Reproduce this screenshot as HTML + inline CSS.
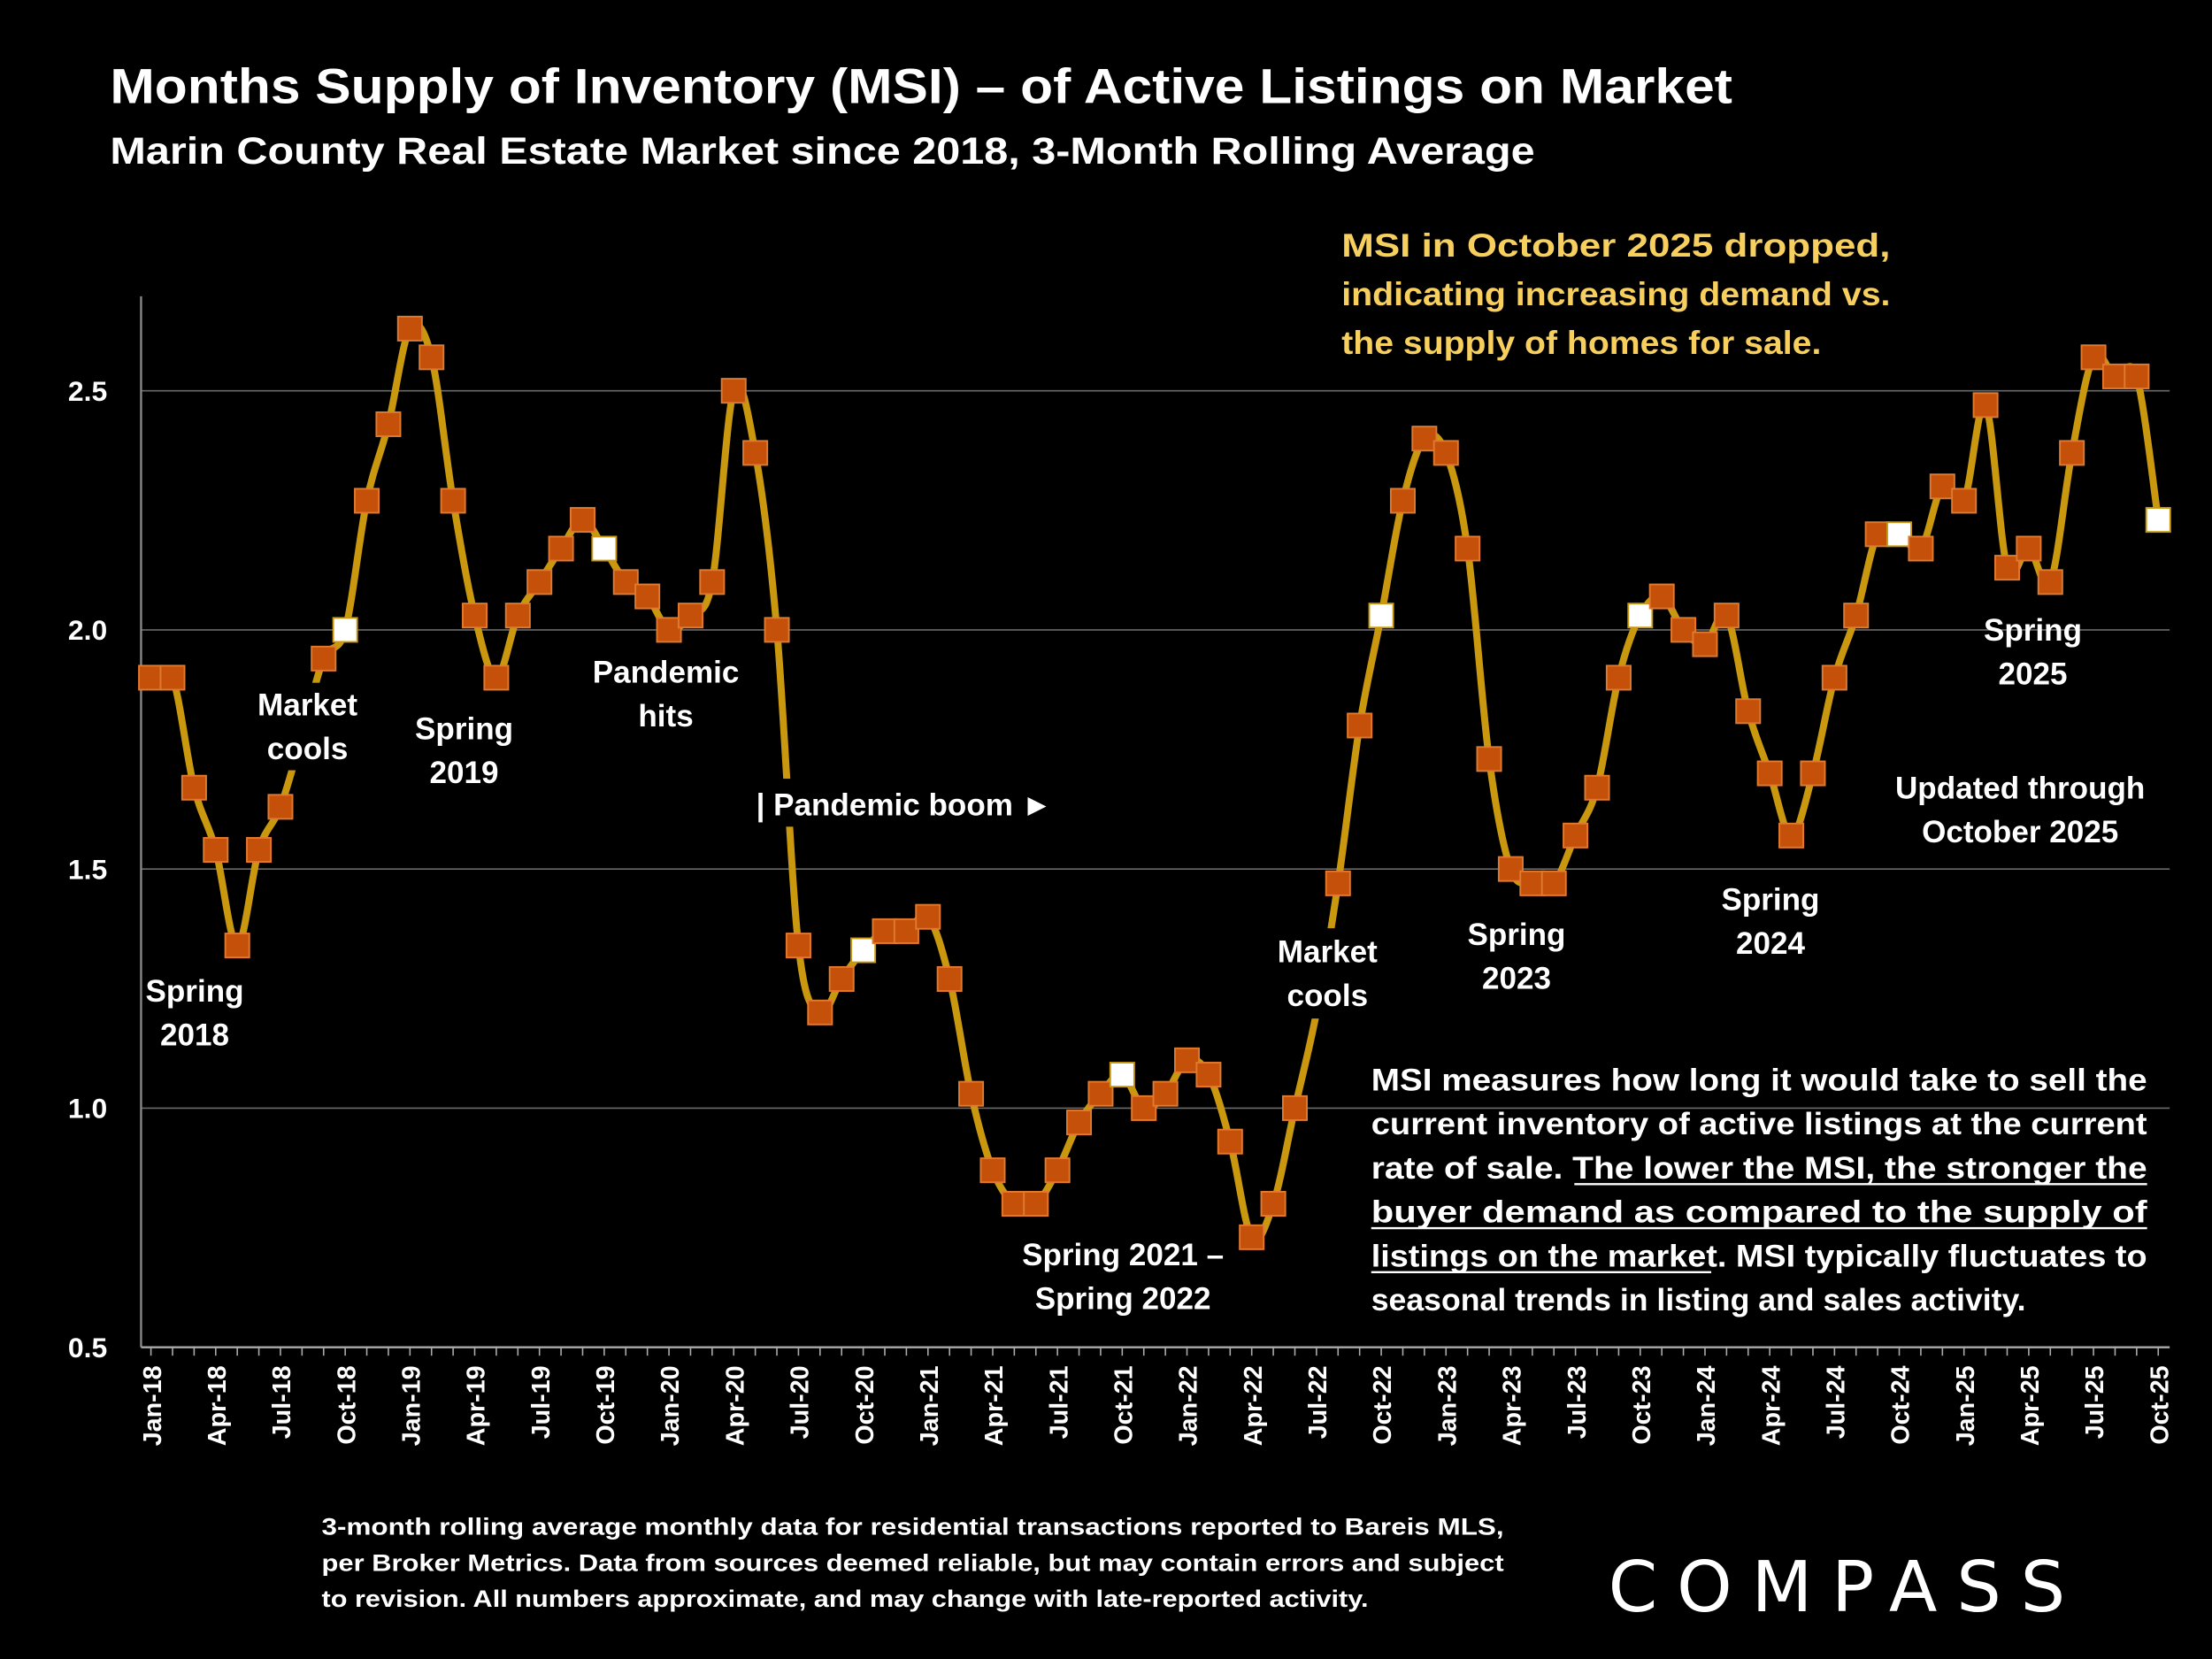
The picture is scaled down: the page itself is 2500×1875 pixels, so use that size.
<!DOCTYPE html>
<html><head><meta charset="utf-8"><style>
html,body{margin:0;padding:0;background:#000;}
svg{display:block;}
text{font-family:"Liberation Sans",Arial,sans-serif;font-weight:bold;fill:#fff;}
</style></head><body>
<svg id="chart" width="2500" height="1875" viewBox="0 0 1568 1176" xmlns="http://www.w3.org/2000/svg">
<rect width="1568" height="1176" fill="#000"/>
<text x="78" y="73" font-size="35" textLength="1150" lengthAdjust="spacingAndGlyphs">Months Supply of Inventory (MSI) – of Active Listings on Market</text>
<text x="78" y="116" font-size="27" textLength="1010" lengthAdjust="spacingAndGlyphs">Marin County Real Estate Market since 2018, 3-Month Rolling Average</text>
<g id="grid"></g>
<g id="axes"></g>
<g id="series"></g>
<g id="labels"></g>
</svg>
<script>
const months = ["Jan","Feb","Mar","Apr","May","Jun","Jul","Aug","Sep","Oct","Nov","Dec"];
const startYear = 18;
const msiValues = [1.90,1.90,1.67,1.54,1.34,1.54,1.63,1.78,1.94,2.00,2.27,2.43,
2.63,2.57,2.27,2.03,1.90,2.03,2.10,2.17,2.23,2.17,2.10,2.07,
2.00,2.03,2.10,2.50,2.37,2.00,1.34,1.20,1.27,1.33,1.37,1.37,
1.40,1.27,1.03,0.87,0.80,0.80,0.87,0.97,1.03,1.07,1.00,1.03,
1.10,1.07,0.93,0.73,0.80,1.00,1.20,1.47,1.80,2.03,2.27,2.40,
2.37,2.17,1.73,1.50,1.47,1.47,1.57,1.67,1.90,2.03,2.07,2.00,
1.97,2.03,1.83,1.70,1.57,1.70,1.90,2.03,2.20,2.20,2.17,2.30,
2.27,2.47,2.13,2.17,2.10,2.37,2.57,2.53,2.53,2.23];
const hiddenMarkers = [7,54];
const yTicks = [0.5,1.0,1.5,2.0,2.5];
const yTickLabels = ["0.5","1.0","1.5","2.0","2.5"];

const NS="http://www.w3.org/2000/svg";
const X0=107, DX=15.30, Y05=955, PERUNIT=339;
function xs(i){return X0+i*DX;}
function ys(v){return Y05-(v-0.5)*PERUNIT;}
function mk(tag,attrs,parent){const e=document.createElementNS(NS,tag);for(const k in attrs)e.setAttribute(k,attrs[k]);parent.appendChild(e);return e;}
const grid=document.getElementById('grid'),axes=document.getElementById('axes'),series=document.getElementById('series'),labels=document.getElementById('labels');
yTicks.forEach((t,i)=>{
  if(t>0.5){const l=mk('line',{x1:100,x2:1538,y1:ys(t),y2:ys(t),stroke:'#6a6a6a','stroke-width':1},grid);
  
  }
  const tx=mk('text',{x:76,y:ys(t)+7,'font-size':20,'text-anchor':'end'},axes);
  tx.textContent=yTickLabels[i];
  
  
});
mk('line',{x1:100,x2:100,y1:210,y2:955,stroke:'#888','stroke-width':1.5},axes);
mk('line',{x1:100,x2:1538,y1:955,y2:955,stroke:'#aaa','stroke-width':1.5},axes);
msiValues.forEach((v,i)=>{
  mk('line',{x1:xs(i),x2:xs(i),y1:955,y2:961,stroke:'#aaa','stroke-width':1},axes);
  if(i%3===0){
    const lbl=months[i%12]+"-"+(startYear+Math.floor(i/12));
    const tx=mk('text',{transform:`translate(${xs(i)+7},${968}) rotate(-90)`,'font-size':18,'text-anchor':'end'},axes);
    tx.textContent=lbl;
    
    
  }
});
const pts=msiValues.map((v,i)=>[xs(i),ys(v)]);
let d=`M${pts[0][0]},${pts[0][1]}`;
for(let i=0;i<pts.length-1;i++){
  const p0=pts[Math.max(0,i-1)],p1=pts[i],p2=pts[i+1],p3=pts[Math.min(pts.length-1,i+2)];
  const c1=[p1[0]+(p2[0]-p0[0])/6,p1[1]+(p2[1]-p0[1])/6];
  const c2=[p2[0]-(p3[0]-p1[0])/6,p2[1]-(p3[1]-p1[1])/6];
  d+=` C${c1[0]},${c1[1]} ${c2[0]},${c2[1]} ${p2[0]},${p2[1]}`;
}
const line=mk('path',{d:d,fill:'none',stroke:'#c9980f','stroke-width':5},series);


msiValues.forEach((v,i)=>{
  if(hiddenMarkers.includes(i))return;
  const oct=(i%12)===9;
  const r=mk('rect',{x:xs(i)-8.5,y:ys(v)-8.5,width:17,height:17,fill:oct?'#fff':'#c4500a',stroke:oct?'#c9980f':'#e07a30','stroke-width':1.2},series);
  
  
});
function label(lines,cx,y,opts={}){
  const g=mk('g',{},labels);
  
  
  if(opts.bg){mk('rect',{x:opts.bg[0],y:opts.bg[1],width:opts.bg[2],height:opts.bg[3],fill:'#000'},g);}
  lines.forEach((t,k)=>{const tx=mk('text',{x:cx,y:y+k*(opts.lh||31),'font-size':opts.fs||22,'text-anchor':opts.anchor||'middle'},g);tx.textContent=t;});
}
label(["Spring","2018"],138,710,{name:'spring-2018-label'});
label(["Market","cools"],218,507,{name:'market-cools-2018-label',bg:[178,484,82,62]});
label(["Spring","2019"],329,524,{name:'spring-2019-label'});
label(["Pandemic","hits"],472,484,{name:'pandemic-hits-label'});
label(["| Pandemic boom ►"],536,578,{name:'pandemic-boom-label',anchor:'start',bg:[530,552,230,34]});
label(["Spring 2021 –","Spring 2022"],796,897,{name:'spring-2021-2022-label'});
label(["Market","cools"],941,682,{name:'market-cools-2022-label',bg:[900,658,84,64]});
label(["Spring","2023"],1075,670,{name:'spring-2023-label'});
label(["Spring","2024"],1255,645,{name:'spring-2024-label'});
label(["Spring","2025"],1441,454,{name:'spring-2025-label'});
label(["Updated through","October 2025"],1432,566,{name:'updated-through-label'});
const note=[["MSI  in  October  2025  dropped,",389],["indicating increasing demand vs.",389],["the supply of homes for sale.",340]];
note.forEach((n,k)=>{const tx=mk('text',{x:951,y:182+k*34.5,'font-size':23,style:'fill:#f7cf5e',textLength:n[1],lengthAdjust:'spacingAndGlyphs'},labels);tx.textContent=n[0];

});
const para=[["MSI measures how long it would take to sell the",550,null],["current inventory of active listings at the current",550,null],["rate of sale. The lower the MSI, the stronger the",550,[1116,1522]],["buyer  demand  as  compared  to  the  supply  of",550,[972,1522]],["listings on the market. MSI typically fluctuates to",550,[972,1213]],["seasonal trends in listing and sales activity.",464,null]];
para.forEach((p,k)=>{const y=773+k*31.2;const tx=mk('text',{x:972,y:y,'font-size':22,textLength:p[1],lengthAdjust:'spacingAndGlyphs'},labels);tx.textContent=p[0];


if(p[2])mk('line',{x1:p[2][0],x2:p[2][1],y1:y+4,y2:y+4,stroke:'#fff','stroke-width':1.5},labels);});
const foot=[["3-month rolling average monthly data for residential transactions reported to Bareis MLS,",838],["per Broker Metrics. Data from sources deemed reliable, but may contain errors and subject",838],["to revision. All numbers approximate, and may change with late-reported activity.",742]];
foot.forEach((f,k)=>{const tx=mk('text',{x:228,y:1088+k*25.5,'font-size':17,textLength:f[1],lengthAdjust:'spacingAndGlyphs'},labels);tx.textContent=f[0];

});
const logo=mk('text',{x:1140,y:1142,'font-size':50,textLength:324,lengthAdjust:'spacing',style:'font-weight:normal;font-family:"DejaVu Sans ExtraLight","DejaVu Sans","Liberation Sans",sans-serif'},labels);
logo.textContent="COMPASS";


</script>
</body></html>
